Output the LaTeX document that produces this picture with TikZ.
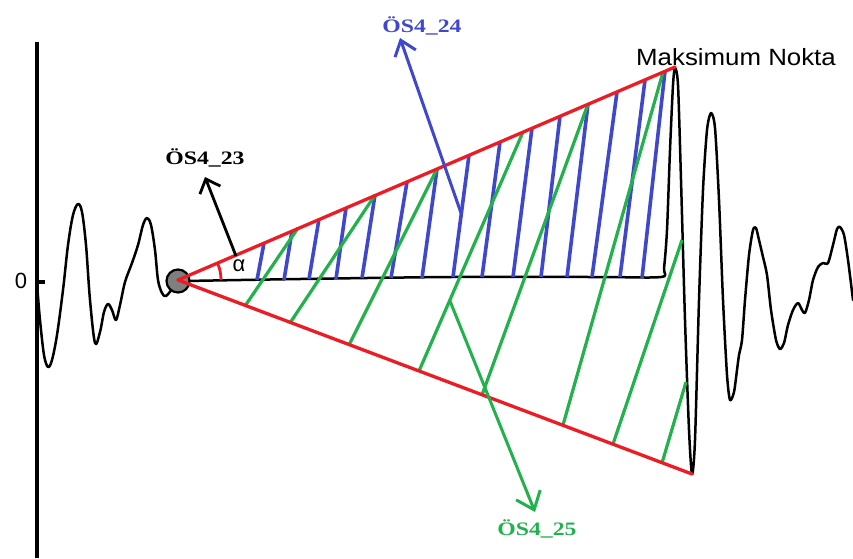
\documentclass[tikz,border=0pt]{standalone}
\usepackage{fontspec}
\usepackage{graphicx}
\setmainfont{Liberation Serif}
\setsansfont{Liberation Sans}
\usetikzlibrary{arrows.meta}
\definecolor{pred}{RGB}{237,28,36}
\definecolor{pblue}{RGB}{63,72,204}
\definecolor{pgreen}{RGB}{34,177,76}
\definecolor{pgray}{RGB}{127,127,127}
\begin{document}
\begin{tikzpicture}[x=1pt,y=-1pt,
  sig/.style={black,line width=2.5pt,line cap=round,line join=round},
  axisline/.style={black,line width=3.2pt},
  redl/.style={pred,line width=3.3pt,line cap=round},
  bluel/.style={pblue,line width=3.6pt},
  greenl/.style={pgreen,line width=3.2pt},
  lab/.style={font=\bfseries\fontsize{19}{22}\selectfont,inner sep=0pt,anchor=base},
  sanslab/.style={font=\sffamily\fontsize{#1}{#1}\selectfont,inner sep=0pt,anchor=base},
]
\fill[white] (0,0) rectangle (853,558);
\useasboundingbox (0,0) rectangle (853,558);

% axis
\draw[axisline] (37,42) -- (37,558);
\draw[axisline] (36,282) -- (45,282);
\node[sanslab=22] (zero) at (21,288) {0};

% signal left
\draw[sig] plot[smooth,tension=0.55] coordinates {(37,284) (40,320) (44,355) (48,367) (52,360) (57,335) (63,290) (68,245) (73,215) (78,204) (82,212) (86,245) (90,300) (95,343) (100,332) (104,312) (108,304) (112,310) (116,320) (120,305) (125,282) (132,263) (138,245) (143,225) (147,218) (151,225) (155,250) (158,280) (162,293) (166,296) (172,289)};

% baseline + signal right
\draw[sig] plot[smooth,tension=0.45] coordinates {(185,281) (300,279) (450,277) (600,277) (661,277) (664,268) (667,230) (670,150) (673,85) (675,68) (678,85) (681,180) (685,320) (689,430) (692,474) (695,440) (699,300) (703,190) (707,130) (711,113) (715,128) (719,200) (723,300) (727,375) (730,400) (734,392) (737,370) (739,355) (742,340) (745,300) (749,255) (753,230) (756,228) (759,240) (763,257) (767,275) (771,310) (776,340) (780,349) (784,343) (788,325) (793,310) (798,303) (802,310) (805,313) (809,300) (813,280) (818,267) (823,263) (828,263) (833,245) (837,229) (840,227) (844,235) (848,260) (853,300)};

% blue hatch
\foreach \bx/\by/\tx/\ty in {257/280/264/243, 284/280/292/231, 309/279/319/219, 336/279/346/208, 362/278/375/195, 391/278/407/182, 422/278/437/169, 453/277/469/155, 482/277/500/142, 513/277/532/128, 541/277/560/116, 567/277/588/104, 592/277/617/92, 620/277/645/80, 642/278/665/71}
  \draw[bluel] (\bx,\by) -- (\tx,\ty);

% green hatch
\foreach \bx/\by/\tx/\ty in {245/306/298/228, 290/323/375/195, 349/345/437/169, 419/371/523/132, 482/395/588/104, 563/425/663/72, 613/444/682/240, 662/463/686/382}
  \draw[greenl] (\bx,\by) -- (\tx,\ty);

% circle
\node[circle,draw=black,line width=2.2pt,fill=pgray,minimum size=23pt,inner sep=0pt] (c) at (178,281) {};

% red triangle
\coordinate (apex) at (178,280);
\coordinate (maxp) at (675,67);
\coordinate (minp) at (692,474);
\draw[redl] (apex) -- (maxp);
\draw[redl] (apex) -- (minp);
\draw[pred,line width=2.8pt] (221,280) arc[start angle=0,end angle=-23,radius=43];
\node[sanslab=22] (alpha) at (239,271) {α};

% arrows and labels
\coordinate (a23s) at (236,256);
\coordinate (a23t) at (205,177);
\draw[black,line width=2.8pt,-{Straight Barb[length=12pt,width=22pt]}] (a23s) -- (a23t);
\node[lab,text=black] (l23) at (205,164) {\scalebox{1.25}[1]{ÖS4\_23}};

\coordinate (a24s) at (461,213);
\coordinate (a24t) at (400,38);
\draw[pblue,line width=3pt,-{Straight Barb[length=14pt,width=22pt]}] (a24s) -- (a24t);
\node[lab,text=pblue] (l24) at (422,32) {\scalebox{1.25}[1]{ÖS4\_24}};

\coordinate (a25s) at (450,301);
\coordinate (a25t) at (535,512);
\draw[pgreen,line width=3pt,-{Straight Barb[length=16pt,width=26pt]}] (a25s) -- (a25t);
\node[lab,text=pgreen] (l25) at (537,535) {\scalebox{1.25}[1]{ÖS4\_25}};

\node[sanslab=23.5] (maxlab) at (736,65) {\scalebox{1.1}[1]{Maksimum Nokta}};
\end{tikzpicture}
\end{document}
